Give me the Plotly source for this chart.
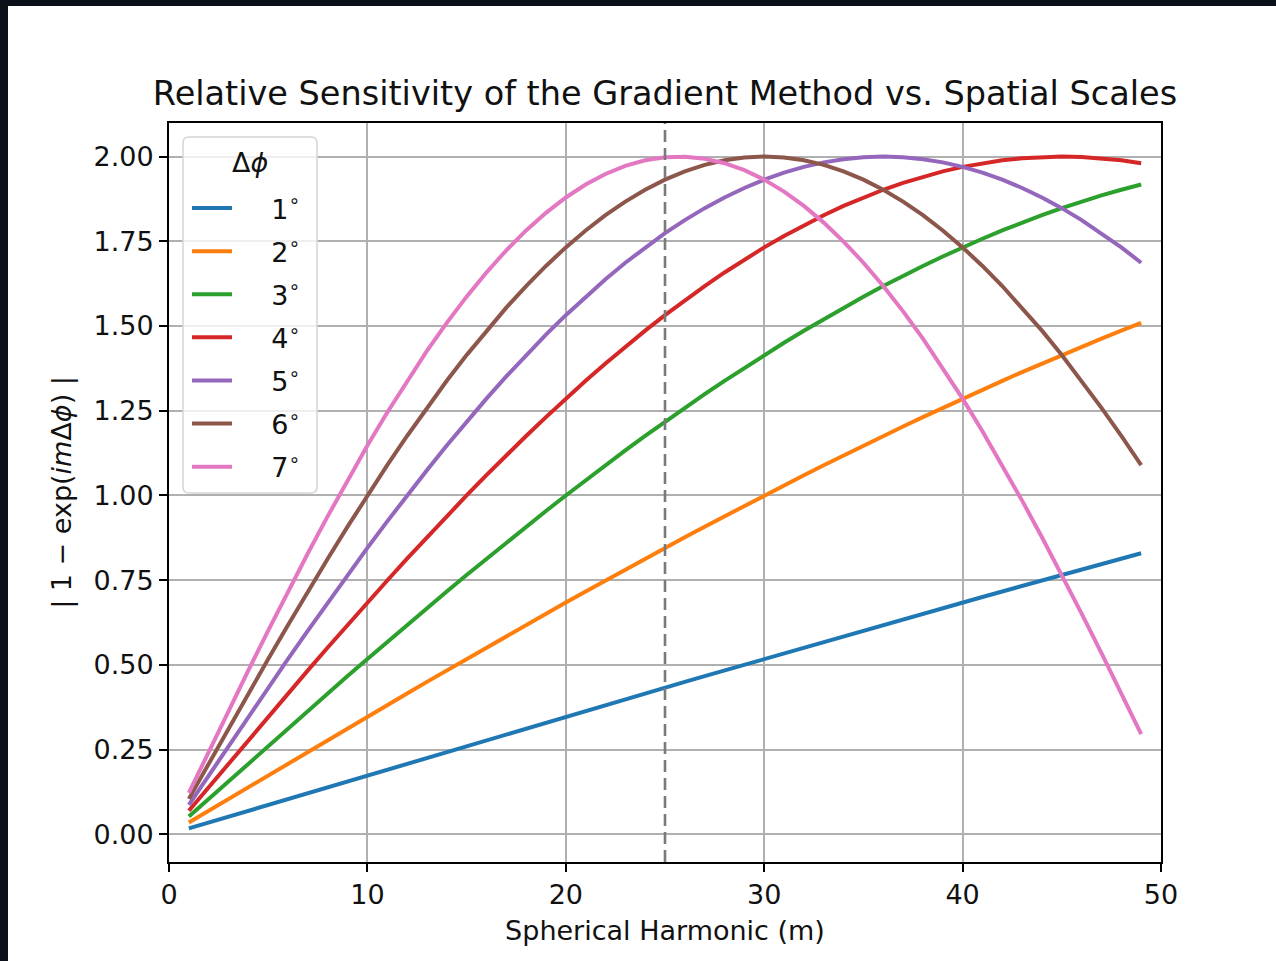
import plotly.graph_objects as go

# Harmonic order m
m_vals = list(range(1, 50))

# |1 - exp(i m dphi)| for each angular step, m = 1 .. 49
sens_1deg = [0.0175, 0.0349, 0.0524, 0.0698, 0.0872, 0.1047, 0.1221, 0.1395, 0.1569, 0.1743,
             0.1917, 0.2091, 0.2264, 0.2437, 0.2611, 0.2783, 0.2956, 0.3129, 0.3301, 0.3473,
             0.3645, 0.3816, 0.3987, 0.4158, 0.4329, 0.4499, 0.4669, 0.4838, 0.5008, 0.5176,
             0.5345, 0.5513, 0.5680, 0.5847, 0.6014, 0.6180, 0.6346, 0.6511, 0.6676, 0.6840,
             0.7004, 0.7167, 0.7330, 0.7492, 0.7654, 0.7815, 0.7975, 0.8135, 0.8294]
sens_2deg = [0.0349, 0.0698, 0.1047, 0.1395, 0.1743, 0.2091, 0.2437, 0.2783, 0.3129, 0.3473,
             0.3816, 0.4158, 0.4499, 0.4838, 0.5176, 0.5513, 0.5847, 0.6180, 0.6511, 0.6840,
             0.7167, 0.7492, 0.7815, 0.8135, 0.8452, 0.8767, 0.9080, 0.9389, 0.9696, 1.0000,
             1.0301, 1.0598, 1.0893, 1.1184, 1.1472, 1.1756, 1.2036, 1.2313, 1.2586, 1.2856,
             1.3121, 1.3383, 1.3640, 1.3893, 1.4142, 1.4387, 1.4627, 1.4863, 1.5094]
sens_3deg = [0.0524, 0.1047, 0.1569, 0.2091, 0.2611, 0.3129, 0.3645, 0.4158, 0.4669, 0.5176,
             0.5680, 0.6180, 0.6676, 0.7167, 0.7654, 0.8135, 0.8610, 0.9080, 0.9543, 1.0000,
             1.0450, 1.0893, 1.1328, 1.1756, 1.2175, 1.2586, 1.2989, 1.3383, 1.3767, 1.4142,
             1.4507, 1.4863, 1.5208, 1.5543, 1.5867, 1.6180, 1.6483, 1.6773, 1.7053, 1.7321,
             1.7576, 1.7820, 1.8052, 1.8271, 1.8478, 1.8672, 1.8853, 1.9021, 1.9176]
sens_4deg = [0.0698, 0.1395, 0.2091, 0.2783, 0.3473, 0.4158, 0.4838, 0.5513, 0.6180, 0.6840,
             0.7492, 0.8135, 0.8767, 0.9389, 1.0000, 1.0598, 1.1184, 1.1756, 1.2313, 1.2856,
             1.3383, 1.3893, 1.4387, 1.4863, 1.5321, 1.5760, 1.6180, 1.6581, 1.6961, 1.7321,
             1.7659, 1.7976, 1.8271, 1.8544, 1.8794, 1.9021, 1.9225, 1.9406, 1.9563, 1.9696,
             1.9805, 1.9890, 1.9951, 1.9988, 2.0000, 1.9988, 1.9951, 1.9890, 1.9805]
sens_5deg = [0.0872, 0.1743, 0.2611, 0.3473, 0.4329, 0.5176, 0.6014, 0.6840, 0.7654, 0.8452,
             0.9235, 1.0000, 1.0746, 1.1472, 1.2175, 1.2856, 1.3512, 1.4142, 1.4746, 1.5321,
             1.5867, 1.6383, 1.6868, 1.7321, 1.7740, 1.8126, 1.8478, 1.8794, 1.9074, 1.9319,
             1.9526, 1.9696, 1.9829, 1.9924, 1.9981, 2.0000, 1.9981, 1.9924, 1.9829, 1.9696,
             1.9526, 1.9319, 1.9074, 1.8794, 1.8478, 1.8126, 1.7740, 1.7321, 1.6868]
sens_6deg = [0.1047, 0.2091, 0.3129, 0.4158, 0.5176, 0.6180, 0.7167, 0.8135, 0.9080, 1.0000,
             1.0893, 1.1756, 1.2586, 1.3383, 1.4142, 1.4863, 1.5543, 1.6180, 1.6773, 1.7321,
             1.7820, 1.8271, 1.8672, 1.9021, 1.9319, 1.9563, 1.9754, 1.9890, 1.9973, 2.0000,
             1.9973, 1.9890, 1.9754, 1.9563, 1.9319, 1.9021, 1.8672, 1.8271, 1.7820, 1.7321,
             1.6773, 1.6180, 1.5543, 1.4863, 1.4142, 1.3383, 1.2586, 1.1756, 1.0893]
sens_7deg = [0.1221, 0.2437, 0.3645, 0.4838, 0.6014, 0.7167, 0.8294, 0.9389, 1.0450, 1.1472,
             1.2450, 1.3383, 1.4265, 1.5094, 1.5867, 1.6581, 1.7233, 1.7820, 1.8341, 1.8794,
             1.9176, 1.9487, 1.9726, 1.9890, 1.9981, 1.9997, 1.9938, 1.9805, 1.9598, 1.9319,
             1.8966, 1.8544, 1.8052, 1.7492, 1.6868, 1.6180, 1.5432, 1.4627, 1.3767, 1.2856,
             1.1896, 1.0893, 0.9848, 0.8767, 0.7654, 0.6511, 0.5345, 0.4158, 0.2956]

series_labels = ["1", "2", "3", "4", "5", "6", "7"]
series_values = [sens_1deg, sens_2deg, sens_3deg, sens_4deg, sens_5deg, sens_6deg, sens_7deg]
colors = ["#1f77b4", "#ff7f0e", "#2ca02c", "#d62728", "#9467bd", "#8c564b", "#e377c2"]

x_ticks = [0, 10, 20, 30, 40, 50]
y_ticks = [0.00, 0.25, 0.50, 0.75, 1.00, 1.25, 1.50, 1.75, 2.00]
marker_m = 25

W, H = 1276, 961
ML, MR, MT, MB = 169, 115, 123, 99
FONT = "DejaVu Sans"
FS = 27
pw, ph = W - ML - MR, H - MT - MB


def px_x(px):
    """pixel column -> paper x"""
    return (px - ML) / pw


def px_y(py):
    """pixel row -> paper y"""
    return 1 - (py - MT) / ph


NB = "\u00a0"

fig = go.Figure()
for i, (lab, vals, col) in enumerate(zip(series_labels, series_values, colors)):
    fig.add_trace(go.Scatter(
        x=m_vals, y=vals, mode="lines", name=f"{NB * 4}{lab}<sup>∘</sup>",
        line=dict(color=col, width=4),
        legendgroup=f"g{i}",
    ))

# dashed reference line at m = 25
fig.add_shape(type="line", xref="x", yref="paper", x0=marker_m, x1=marker_m, y0=0, y1=1,
              line=dict(color="#7a7a7a", width=2.6, dash="12px,6px"), layer="above")

# legend frame (rounded box) and its title
bx0, bx1, by0, by1, r = px_x(183), px_x(317), px_y(493), px_y(137), 6
rx, ry = r / pw, r / ph
legend_path = (f"M {bx0 + rx} {by0} L {bx1 - rx} {by0} Q {bx1} {by0} {bx1} {by0 + ry} "
               f"L {bx1} {by1 - ry} Q {bx1} {by1} {bx1 - rx} {by1} "
               f"L {bx0 + rx} {by1} Q {bx0} {by1} {bx0} {by1 - ry} "
               f"L {bx0} {by0 + ry} Q {bx0} {by0} {bx0 + rx} {by0} Z")
fig.add_shape(type="path", xref="paper", yref="paper", path=legend_path,
              fillcolor="rgba(255,255,255,0.8)", line=dict(color="#d5d5d5", width=1.5),
              layer="above")
fig.add_annotation(text="Δ<i>ϕ</i>", xref="paper", yref="paper", x=px_x(250), y=px_y(162),
                   xanchor="center", yanchor="middle", showarrow=False,
                   font=dict(family=FONT, size=FS, color="#111111"))

# dark frame around the figure
frame = "#0b0f17"
fig.add_shape(type="rect", xref="paper", yref="paper",
              x0=px_x(0), x1=px_x(8), y0=px_y(H), y1=px_y(0),
              fillcolor=frame, line=dict(width=0), layer="above")
fig.add_shape(type="rect", xref="paper", yref="paper",
              x0=px_x(0), x1=px_x(W), y0=px_y(6), y1=px_y(0),
              fillcolor=frame, line=dict(width=0), layer="above")

axis_common = dict(
    showline=True, linecolor="black", linewidth=2, mirror=True,
    ticks="outside", ticklen=8, tickwidth=2, tickcolor="black",
    showgrid=True, gridcolor="#b0b0b0", gridwidth=1.6, zeroline=False,
    tickfont=dict(family=FONT, size=FS, color="#111111"),
)

fig.update_layout(
    width=W, height=H,
    margin=dict(l=ML, r=MR, t=MT, b=MB),
    paper_bgcolor="white", plot_bgcolor="white",
    font=dict(family=FONT, color="#111111"),
    title=dict(text="Relative Sensitivity of the Gradient Method vs. Spatial Scales",
               x=(ML + pw / 2) / W, xanchor="center", y=1 - 93 / H, yanchor="middle",
               yref="container", font=dict(family=FONT, size=33.5, color="#111111")),
    xaxis=dict(range=[0, 50], tickvals=x_ticks, ticktext=[str(v) for v in x_ticks],
               title=dict(text="Spherical Harmonic (m)", font=dict(family=FONT, size=FS), standoff=12),
               **axis_common),
    yaxis=dict(range=[-0.0816, 2.0991], tickvals=y_ticks, ticktext=[f"{v:.2f}" for v in y_ticks],
               title=dict(text="| 1 − exp(<i>im</i>Δ<i>ϕ</i>) |", font=dict(family=FONT, size=FS), standoff=14),
               **axis_common),
    legend=dict(
        x=px_x(187), y=px_y(184), xanchor="left", yanchor="top",
        bgcolor="rgba(0,0,0,0)", borderwidth=0,
        font=dict(family=FONT, size=FS, color="#111111"),
        tracegroupgap=5, itemwidth=40,
    ),
    showlegend=True,
)

fig.write_html("out.html")
